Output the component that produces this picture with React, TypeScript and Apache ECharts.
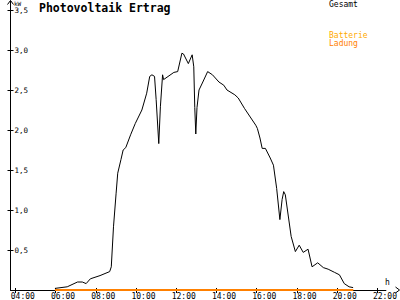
import React, { useEffect, useRef } from "react";
import * as echarts from "echarts";

const gesamtHours = [
  5.97, 6.58, 7.09, 7.33, 7.52, 7.73, 8.21, 8.69, 8.77, 8.88, 9.01, 9.09, 9.25,
  9.36, 9.49, 9.73, 9.96, 10.29, 10.53, 10.68, 10.79, 10.92, 11.0, 11.13, 11.21,
  11.32, 11.37, 11.88, 12.07, 12.28, 12.36, 12.6, 12.79, 12.87, 12.92, 12.97,
  13.03, 13.13, 13.32, 13.56, 13.8, 14.12, 14.36, 14.52, 14.91, 15.08, 15.39,
  15.71, 15.95, 16.03, 16.16, 16.27, 16.43, 16.67, 16.83, 16.99, 17.15, 17.26,
  17.34, 17.42, 17.71, 17.92, 18.11, 18.31, 18.55, 18.75, 19.03, 19.31, 19.55,
  19.87, 20.11, 20.35, 20.59, 20.79,
];
const gesamtKW = [
  0.02, 0.04, 0.1, 0.1, 0.08, 0.14, 0.18, 0.23, 0.29, 0.79, 1.21, 1.46, 1.63,
  1.75, 1.78, 1.94, 2.08, 2.25, 2.46, 2.67, 2.69, 2.67, 2.38, 1.83, 2.29, 2.69,
  2.63, 2.72, 2.73, 2.96, 2.95, 2.83, 2.94, 2.79, 2.28, 1.95, 2.28, 2.5, 2.6,
  2.73, 2.69, 2.6, 2.56, 2.5, 2.44, 2.4, 2.27, 2.15, 2.06, 2.02, 1.9, 1.77,
  1.77, 1.65, 1.56, 1.27, 0.88, 1.13, 1.23, 1.19, 0.67, 0.48, 0.56, 0.47, 0.51,
  0.29, 0.34, 0.28, 0.26, 0.22, 0.19, 0.08, 0.04, 0.03,
];
const ladungHours = [5.97, 20.8];
const ladungKW = [0, 0];
const xTickHours = [4, 6, 8, 10, 12, 14, 16, 18, 20, 22];
const yTickKW = [0.5, 1, 1.5, 2, 2.5, 3, 3.5];

const FONT = "DejaVu Sans Mono";

export default function App() {
  const ref = useRef<HTMLDivElement>(null);
  useEffect(() => {
    if (!ref.current) return;
    const chart = echarts.init(ref.current, undefined, { renderer: "svg" });
    const fmtX = (v: number) => (v < 10 ? "0" : "") + v + ":00";
    const fmtY = (v: number) => v.toFixed(1).replace(".", ",");
    chart.setOption({
      animation: false,
      backgroundColor: "#ffffff",
      title: {
        text: "Photovoltaik Ertrag",
        left: 39,
        top: 2,
        padding: 0,
        textStyle: { fontFamily: FONT, fontWeight: "bold", fontSize: 11.5, color: "#000" },
      },
      grid: { left: 10.5, right: 0, top: 1, bottom: 10, containLabel: false },
      xAxis: [
        {
          type: "value",
          min: 3.7605,
          max: 22.419,
          splitLine: { show: false },
          axisLine: { show: true, lineStyle: { color: "#000", width: 1 } },
          axisTick: { show: true, length: 3, lineStyle: { color: "#000" }, customValues: xTickHours },
          axisLabel: {
            show: true,
            customValues: xTickHours,
            formatter: fmtX,
            fontFamily: FONT,
            fontSize: 8,
            color: "#000",
            margin: 2,
            align: "center",
            padding: [0, 0, 0, 15],
          },
        },
        {
          type: "value",
          position: "bottom",
          min: 3.7605,
          max: 22.419,
          splitLine: { show: false },
          axisLine: { show: false },
          axisTick: { show: true, inside: true, length: 2, lineStyle: { color: "#000" }, customValues: xTickHours },
          axisLabel: { show: false },
        },
      ],
      yAxis: [
        {
          type: "value",
          min: 0,
          max: 3.6125,
          splitLine: { show: false },
          axisLine: { show: true, lineStyle: { color: "#000", width: 1 } },
          axisTick: { show: true, length: 3, lineStyle: { color: "#000" }, customValues: yTickKW },
          axisLabel: {
            show: true,
            inside: true,
            customValues: yTickKW,
            formatter: fmtY,
            fontFamily: FONT,
            fontSize: 7.5,
            lineHeight: 7,
            color: "#000",
            margin: 4,
          },
        },
        {
          type: "value",
          position: "left",
          min: 0,
          max: 3.6125,
          splitLine: { show: false },
          axisLine: { show: false },
          axisTick: { show: true, inside: true, length: 3, lineStyle: { color: "#000" }, customValues: yTickKW },
          axisLabel: { show: false },
        },
      ],
      series: [
        {
          name: "Gesamt",
          type: "line",
          data: gesamtHours.map((h, i) => [h, gesamtKW[i]]),
          showSymbol: false,
          lineStyle: { color: "#000", width: 1 },
          itemStyle: { color: "#000" },
          z: 3,
        },
        {
          name: "Ladung",
          type: "line",
          data: ladungHours.map((h, i) => [h, ladungKW[i]]),
          showSymbol: false,
          lineStyle: { color: "#ff8000", width: 2 },
          itemStyle: { color: "#ff8000" },
          z: 4,
        },
      ],
      graphic: [
        {
          type: "polyline",
          shape: { points: [[7.5, 4.5], [10.5, 0.5], [13.5, 4.5]] },
          style: { stroke: "#000", fill: null, lineWidth: 1 },
          z: 10,
        },
        {
          type: "polyline",
          shape: { points: [[395.5, 287], [399.5, 290], [395.5, 293]] },
          style: { stroke: "#000", fill: null, lineWidth: 1 },
          z: 10,
        },
        {
          type: "text",
          x: 14,
          y: 0,
          style: { text: "kW", fontFamily: FONT, fontSize: 6, lineHeight: 6, fill: "#000" },
          z: 10,
        },
        {
          type: "text",
          x: 385,
          y: 278,
          style: { text: "h", fontFamily: FONT, fontSize: 8, fill: "#000" },
          z: 10,
        },
        {
          type: "text",
          x: 329,
          y: 0,
          style: { text: "Gesamt", fontFamily: FONT, fontSize: 8, fill: "#000" },
          z: 10,
        },
        {
          type: "text",
          x: 329,
          y: 31,
          style: { text: "Batterie", fontFamily: FONT, fontSize: 8, fill: "#ffaa00" },
          z: 10,
        },
        {
          type: "text",
          x: 329,
          y: 39,
          style: { text: "Ladung", fontFamily: FONT, fontSize: 8, fill: "#ff8000" },
          z: 10,
        },
      ],
    });
    return () => chart.dispose();
  }, []);
  return <div ref={ref} style={{ width: 400, height: 300, position: "absolute", left: 0, top: 0 }} />;
}
